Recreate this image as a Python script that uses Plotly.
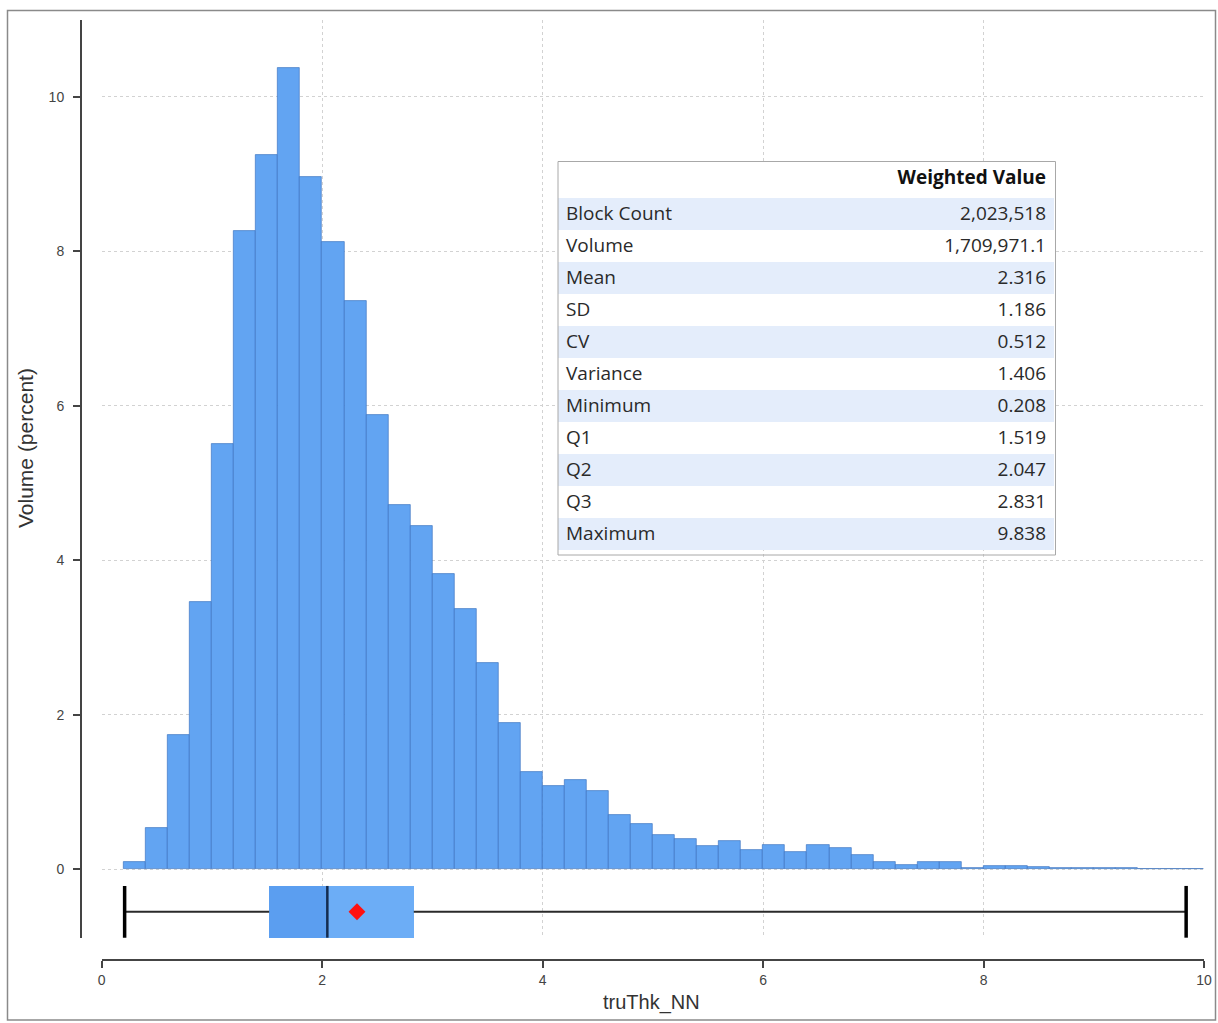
import plotly.graph_objects as go

# ---------------- data ----------------
bin_start = [0.2, 0.4, 0.6, 0.8, 1.0, 1.2, 1.4, 1.6, 1.8, 2.0,
             2.2, 2.4, 2.6, 2.8, 3.0, 3.2, 3.4, 3.6, 3.8, 4.0,
             4.2, 4.4, 4.6, 4.8, 5.0, 5.2, 5.4, 5.6, 5.8, 6.0,
             6.2, 6.4, 6.6, 6.8, 7.0, 7.2, 7.4, 7.6, 7.8, 8.0,
             8.2, 8.4, 8.6, 8.8, 9.0, 9.2, 9.4, 9.6, 9.8]
volume_pct = [0.10, 0.54, 1.74, 3.46, 5.50, 8.26, 9.24, 10.37, 8.96, 8.12,
              7.35, 5.88, 4.71, 4.45, 3.82, 3.37, 2.67, 1.89, 1.26, 1.08,
              1.16, 1.01, 0.70, 0.59, 0.44, 0.39, 0.30, 0.37, 0.25, 0.31,
              0.23, 0.31, 0.28, 0.18, 0.10, 0.05, 0.095, 0.09, 0.02, 0.04,
              0.04, 0.035, 0.02, 0.02, 0.012, 0.012, 0.0, 0.01, 0.01]
bin_width = 0.2

stat_minimum = 0.208
stat_q1 = 1.519
stat_q2 = 2.047
stat_q3 = 2.831
stat_maximum = 9.838
stat_mean = 2.316

table_labels = ["Block Count", "Volume", "Mean", "SD", "CV", "Variance",
                "Minimum", "Q1", "Q2", "Q3", "Maximum"]
table_values = ["2,023,518", "1,709,971.1", "2.316", "1.186", "0.512", "1.406",
                "0.208", "1.519", "2.047", "2.831", "9.838"]
table_header = ["", "Weighted Value"]

x_ticks = [0, 2, 4, 6, 8, 10]
y_ticks = [0, 2, 4, 6, 8, 10]

# ---------------- layout geometry (pixels) ----------------
W, H = 1218, 1023
ML, MR, MT, MB = 81, 14, 20, 63
PW = W - ML - MR
PH = H - MT - MB


def px_x(p):
    return (p - ML) / PW


def px_y(p):
    return (H - MB - p) / PH


box_y = -0.55
box_half = 0.335

BAR_FILL = "#62a4f2"
BAR_LINE = "rgba(50,105,185,0.75)"

fig = go.Figure()

# histogram
fig.add_trace(go.Bar(
    x=[s + bin_width / 2 for s in bin_start],
    y=volume_pct,
    width=bin_width,
    marker=dict(color=BAR_FILL, line=dict(color=BAR_LINE, width=0.8)),
    hoverinfo="x+y",
    showlegend=False,
))

# box (two halves) as horizontal bars
fig.add_trace(go.Bar(
    y=[box_y], x=[stat_q2 - stat_q1], base=[stat_q1], orientation="h",
    width=2 * box_half, marker=dict(color="#5b9ef0", line=dict(width=0)),
    showlegend=False, hoverinfo="skip",
))
fig.add_trace(go.Bar(
    y=[box_y], x=[stat_q3 - stat_q2], base=[stat_q2], orientation="h",
    width=2 * box_half, marker=dict(color="#6cadf6", line=dict(width=0)),
    showlegend=False, hoverinfo="skip",
))

# whiskers
fig.add_trace(go.Scatter(
    x=[stat_minimum, stat_q1, None, stat_q3, stat_maximum],
    y=[box_y, box_y, None, box_y, box_y],
    mode="lines", line=dict(color="#2a2a2a", width=2),
    showlegend=False, hoverinfo="skip",
))
# caps
fig.add_trace(go.Scatter(
    x=[stat_minimum, stat_minimum, None, stat_maximum, stat_maximum],
    y=[box_y - box_half, box_y + box_half, None, box_y - box_half, box_y + box_half],
    mode="lines", line=dict(color="#000000", width=3.5),
    showlegend=False, hoverinfo="skip",
))
# median
fig.add_trace(go.Scatter(
    x=[stat_q2, stat_q2],
    y=[box_y - box_half, box_y + box_half],
    mode="lines", line=dict(color="#142c50", width=2.5),
    showlegend=False, hoverinfo="skip",
))
# mean
fig.add_trace(go.Scatter(
    x=[stat_mean], y=[box_y], mode="markers",
    marker=dict(symbol="diamond", size=13, color="#ff1010"),
    showlegend=False, hoverinfo="x",
))

# statistics table
n = len(table_labels)
band = ["#e4edfb" if i % 2 == 0 else "#ffffff" for i in range(n)]
fig.add_trace(go.Table(
    domain=dict(x=[px_x(558), px_x(1055)], y=[px_y(556), px_y(162)]),
    columnwidth=[1, 1],
    header=dict(
        values=table_header,
        align=["left", "right"],
        fill=dict(color="#ffffff"),
        line=dict(color="#ffffff", width=0),
        font=dict(family="Open Sans", size=19, color="#111111", weight="bold"),
        height=36,
    ),
    cells=dict(
        values=[table_labels, table_values],
        align=["left", "right"],
        fill=dict(color=[band, band]),
        line=dict(color=[band, band], width=0),
        font=dict(family="Open Sans", size=19, color="#2a2a2a"),
        height=32,
    ),
))

axis_font = dict(family="Liberation Sans", size=14, color="#444444")

fig.update_layout(
    width=W, height=H, autosize=False,
    margin=dict(l=ML, r=MR, t=MT, b=MB, pad=0),
    paper_bgcolor="#ffffff",
    plot_bgcolor="#ffffff",
    bargap=0,
    barmode="overlay",
    showlegend=False,
    xaxis=dict(
        domain=[px_x(101.7), 1.0],
        range=[0, 10],
        anchor="free", position=0, automargin=False,
        tickvals=x_ticks,
        showline=True, linecolor="#444444", linewidth=2,
        ticks="outside", ticklen=7, tickwidth=1.5, tickcolor="#444444",
        tickfont=axis_font,
        showgrid=True, gridcolor="#d2d2d2", griddash="dot", gridwidth=1,
        zeroline=False,
    ),
    yaxis=dict(
        domain=[px_y(938), 1.0],
        range=[-0.889, 10.993],
        anchor="free", position=0, automargin=False,
        tickvals=y_ticks,
        showline=True, linecolor="#444444", linewidth=2,
        ticks="outside", ticklen=7, tickwidth=1.5, tickcolor="#444444",
        tickfont=axis_font, ticklabelstandoff=6,
        showgrid=True, gridcolor="#d2d2d2", griddash="dot", gridwidth=1,
        zeroline=False,
    ),
    annotations=[
        dict(text="truThk_NN", xref="paper", yref="paper",
             x=px_x(651), y=px_y(1003), showarrow=False,
             xanchor="center", yanchor="middle",
             font=dict(family="Liberation Sans", size=20, color="#333333")),
        dict(text="Volume (percent)", xref="paper", yref="paper",
             x=px_x(25), y=px_y(448), showarrow=False, textangle=-90,
             xanchor="center", yanchor="middle",
             font=dict(family="Liberation Sans", size=21, color="#333333")),
    ],
    shapes=[
        # table border
        dict(type="rect", xref="paper", yref="paper",
             x0=px_x(558), x1=px_x(1055.5), y0=px_y(555), y1=px_y(161.5),
             line=dict(color="#a8a8a8", width=1), fillcolor="rgba(0,0,0,0)",
             layer="above"),
        # outer frame
        dict(type="rect", xref="paper", yref="paper",
             x0=px_x(7.5), x1=px_x(1215.5), y0=px_y(1020), y1=px_y(10.5),
             line=dict(color="#8a8a8a", width=1.5), fillcolor="rgba(0,0,0,0)",
             layer="above"),
    ],
)

fig.write_html("out.html",
               config={"displayModeBar": False, "responsive": False},
               post_script="document.body.style.margin='0px';document.body.style.overflow='hidden';")
